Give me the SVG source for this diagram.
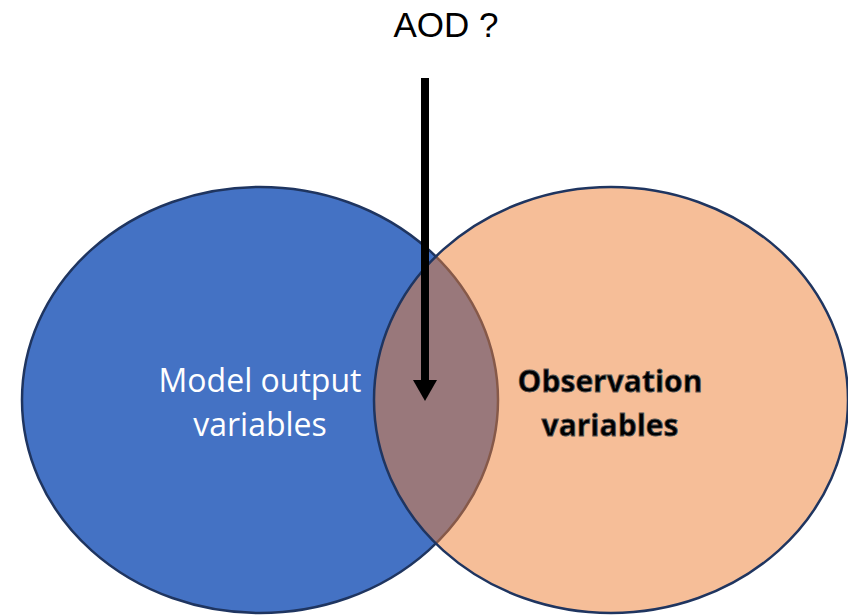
<svg xmlns="http://www.w3.org/2000/svg" width="848" height="616" viewBox="0 0 848 616">
<style>
.set{stroke:#1f3560;stroke-width:2.5}
.lbl{font-family:"Open Sans","Noto Sans",sans-serif;font-size:32px;text-anchor:middle}
.obs{font-family:"Open Sans","Noto Sans",sans-serif;font-weight:bold;font-size:30px;text-anchor:middle;fill:#000;stroke:#555;stroke-width:0.8}
</style>
<rect width="848" height="616" fill="#fff"/>
<g id="model">
<ellipse class="set" cx="260" cy="400" rx="238" ry="213" fill="#4472c4"/>
</g>
<g id="obs">
<ellipse class="set" cx="611" cy="400" rx="237" ry="213" fill="#ed7d31" fill-opacity="0.5"/>
</g>
<g id="model-label">
<text class="lbl" x="260" y="392" fill="#fff">Model output</text>
<text class="lbl" x="260" y="436" fill="#fff">variables</text>
</g>
<g id="obs-label">
<text class="obs" x="610" y="392">Observation</text>
<text class="obs" x="610" y="436">variables</text>
</g>
<g id="aod">
<text x="446" y="37" font-family="Liberation Sans, Arial, sans-serif" font-size="35" text-anchor="middle" fill="#000">AOD ?</text>
</g>
<g id="connectors">
<line x1="425" y1="78" x2="425" y2="382" stroke="#000" stroke-width="8"/>
<path d="M413,380 L437,380 L425,401 Z" fill="#000"/>
</g>
</svg>
